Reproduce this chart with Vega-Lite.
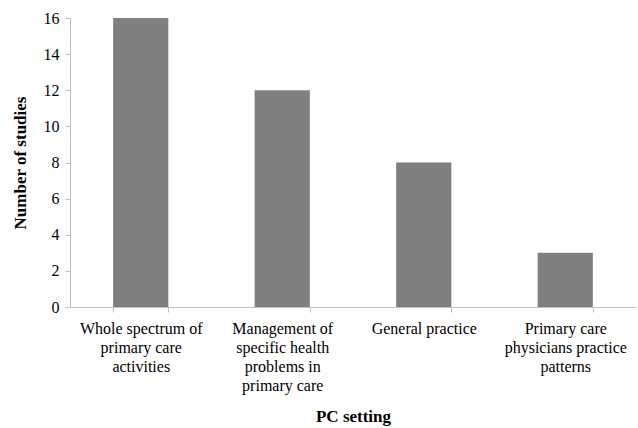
{
  "$schema": "https://vega.github.io/schema/vega-lite/v6.json",
  "autosize": "none",
  "width": 566,
  "height": 289,
  "padding": {"left": 70, "top": 18, "right": 2, "bottom": 121},
  "background": "white",
  "data": {"values": [
    {"setting": "Whole spectrum of primary care activities", "studies": 16},
    {"setting": "Management of specific health problems in primary care", "studies": 12},
    {"setting": "General practice", "studies": 8},
    {"setting": "Primary care physicians practice patterns", "studies": 3}
  ]},
  "config": {
    "view": {"stroke": null},
    "font": "Liberation Serif, Times New Roman, Times, serif"
  },
  "mark": {"type": "bar", "color": "#7f7f7f"},
  "encoding": {
    "x": {
      "field": "setting", "type": "nominal", "sort": null,
      "scale": {"paddingInner": 0.61, "paddingOuter": 0.305},
      "axis": {
        "title": "PC setting",
        "titleFont": "Liberation Serif, Times New Roman, Times, serif", "titleFontSize": 17, "titleFontWeight": "bold", "titleColor": "black",
        "titlePadding": 15,
        "labelAngle": 0, "labelFont": "Liberation Serif, Times New Roman, Times, serif", "labelFontSize": 16, "labelColor": "black",
        "labelLineHeight": 19, "labelPadding": 8, "labelLimit": 0,
        "labelExpr": "datum.value == 'Whole spectrum of primary care activities' ? ['Whole spectrum of','primary care','activities'] : datum.value == 'Management of specific health problems in primary care' ? ['Management of','specific health','problems in','primary care'] : datum.value == 'Primary care physicians practice patterns' ? ['Primary care','physicians practice','patterns'] : datum.label",
        "tickBand": "extent", "tickSize": 5, "tickColor": "#bfbfbf",
        "domainColor": "#bfbfbf", "grid": false
      }
    },
    "y": {
      "field": "studies", "type": "quantitative",
      "scale": {"domain": [0, 16]},
      "axis": {
        "title": "Number of studies",
        "titleFont": "Liberation Serif, Times New Roman, Times, serif", "titleFontSize": 17, "titleFontWeight": "bold", "titleColor": "black",
        "titlePadding": 14,
        "values": [0, 2, 4, 6, 8, 10, 12, 14, 16],
        "labelFont": "Liberation Serif, Times New Roman, Times, serif", "labelFontSize": 16, "labelColor": "black", "labelPadding": 6,
        "tickSize": 5, "tickColor": "#bfbfbf", "domainColor": "#bfbfbf", "grid": false
      }
    }
  }
}
